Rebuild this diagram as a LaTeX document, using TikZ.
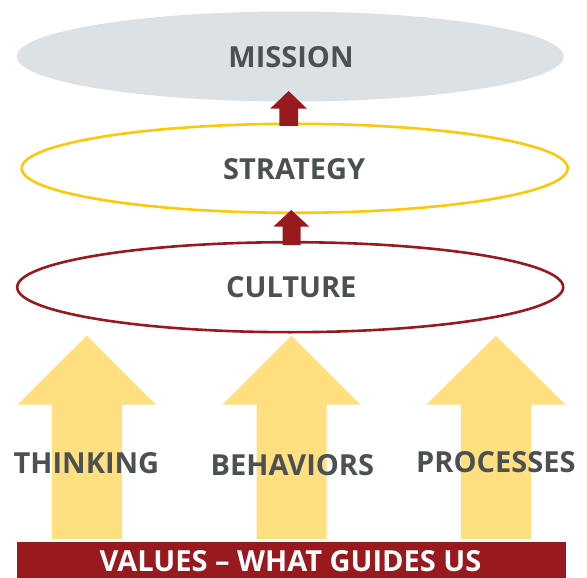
\documentclass[tikz,border=0pt]{standalone}
\usepackage{fontspec}
\setmainfont{Open Sans}
\usetikzlibrary{shapes.geometric}
\definecolor{txtgray}{HTML}{4B5153}
\definecolor{misfill}{HTML}{DCE1E5}
\definecolor{gold}{HTML}{FFC70A}
\definecolor{darkred}{HTML}{981A1E}
\definecolor{lightyel}{HTML}{FFDF80}
\tikzset{
  oval/.style={ellipse, inner sep=0pt, minimum width=546pt, minimum height=89pt},
  lbl/.style={font=\fontsize{29}{32}\selectfont\bfseries, text=txtgray, inner sep=0pt},
  redarr/.style={fill=darkred},
  yelarr/.style={fill=lightyel},
}
\begin{document}
\begin{tikzpicture}[x=1pt,y=-1pt]
\useasboundingbox (0,0) rectangle (587,578);
% ellipses
\node[oval, fill=misfill, minimum width=547pt, minimum height=90pt] (mission) at (290.2,56.5) {};
\node[oval, draw=gold, line width=2.6pt] (strategy) at (294.7,168.3) {};
\node[oval, draw=darkred, line width=2.6pt, minimum height=90pt] (culture) at (290.2,287.2) {};
\node[lbl] (missiont) at (291,57.5) {MISSION};
\node[lbl] (strategyt) at (294.2,169.5) {STRATEGY};
\node[lbl] (culturet) at (291.3,287) {CULTURE};
% red arrows
\fill[redarr] (288.6,91) -- (307,108.7) -- (298,108.7) -- (298,126) -- (279.3,126) -- (279.3,108.7) -- (270.2,108.7) -- cycle;
\fill[redarr] (291.3,210) -- (309.3,226.7) -- (300.7,226.7) -- (300.7,245) -- (282.7,245) -- (282.7,226.7) -- (273.3,226.7) -- cycle;
% yellow arrows
\fill[yelarr] (86.7,335.7) -- (156,404.7) -- (122,404.7) -- (122,539) -- (52,539) -- (52,404.7) -- (17.3,404.7) -- cycle;
\fill[yelarr] (291.5,335.7) -- (360.7,404.7) -- (326.6,404.7) -- (326.6,539) -- (256.5,539) -- (256.5,404.7) -- (222.4,404.7) -- cycle;
\fill[yelarr] (495.8,335.7) -- (565.4,404.7) -- (531,404.7) -- (531,539) -- (460.8,539) -- (460.8,404.7) -- (426.3,404.7) -- cycle;
% labels
\node[lbl] (thinking) at (86.4,463.5) {THINKING};
\node[lbl] (behaviors) at (292.4,465) {BEHAVIORS};
\node[lbl] (processes) at (495.9,462.5) {PROCESSES};
% bar
\node[fill=darkred, minimum width=548.5pt, minimum height=36.3pt, inner sep=0pt, anchor=north west] (bar) at (16.9,541.7) {};
\node[lbl, text=white] (bart) at (290.5,560.8) {VALUES -- WHAT GUIDES US};
\end{tikzpicture}
\end{document}
